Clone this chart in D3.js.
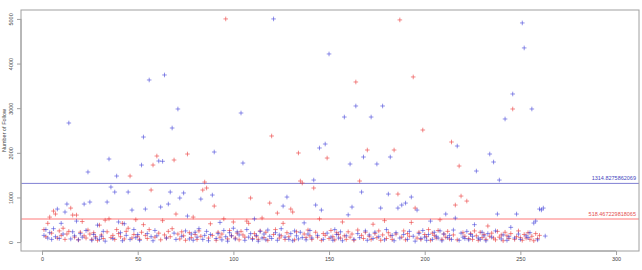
<!DOCTYPE html>
<html><head><meta charset="utf-8">
<script src="https://cdn.jsdelivr.net/npm/d3@7"></script>
<style>body{margin:0;background:#fff}svg{display:block}text{font-family:"Liberation Sans",Arial,sans-serif}</style>
</head><body><svg id="c" width="642" height="270"></svg>
<script>
const blueValues = [
150,280,90,210,60,300,120,740,80,420,
180,673,852,2668,70,230,140,470,50,190,
110,852,260,1570,897,40,170,90,380,60,
130,240,20,897,1861,1233,80,1121,1480,450,
210,30,410,150,1121,60,717,280,100,170,
40,1726,2354,740,190,3632,120,30,260,140,
1816,785,1810,3744,90,852,1121,2556,200,60,
2982,987,130,1100,250,583,70,180,40,220,
110,300,964,60,150,240,30,170,1054,2018,
80,190,440,50,260,120,20,210,140,310,
70,230,160,2892,1771,40,280,110,190,60,
520,150,20,240,90,180,50,270,130,80,
5000,210,40,160,300,807,110,1009,60,190,
30,250,140,70,220,100,430,50,180,260,
90,1390,830,150,2108,717,60,2197,200,4215,
110,40,280,170,90,230,30,2802,140,610,
1749,785,60,3049,190,100,1121,1906,250,40,
160,2802,80,220,1749,120,762,3049,50,280,
1076,1906,150,30,210,762,90,830,170,874,
60,240,1009,130,20,717,190,80,260,110,
40,170,470,60,220,130,90,250,30,180,
628,100,150,60,270,538,2152,40,200,110,
80,240,50,170,130,390,1592,90,60,220,
140,30,190,1973,110,1794,250,628,1390,70,
160,2758,40,120,330,3318,90,628,180,60,
4910,4350,140,100,210,2982,426,471,50,740,
720,762,135];
const redValues = [
280,120,420,560,200,695,628,90,250,150,
310,60,180,240,762,605,110,605,50,220,
460,140,90,270,180,60,210,120,40,380,
160,80,490,230,520,100,150,60,280,190,
120,420,70,240,310,1480,90,170,500,130,
60,220,390,150,80,280,1166,1726,110,1928,
200,50,480,160,90,240,120,300,1839,628,
180,70,230,140,40,1973,210,100,560,170,
60,250,130,1166,1345,1211,90,410,150,807,
40,220,110,180,520,5000,70,260,140,450,
90,200,50,240,160,110,470,420,987,80,
190,130,60,250,540,100,220,40,874,2377,
170,280,650,90,140,420,60,210,120,740,
673,50,230,1996,1368,1323,180,100,270,140,
60,1211,220,110,520,40,190,150,1883,80,
260,120,50,210,170,90,450,140,60,230,
110,180,40,3587,270,1368,150,80,220,2063,
130,60,400,190,100,250,40,160,480,80,
210,140,60,2063,180,1076,4978,110,250,50,
190,130,440,3700,762,90,220,60,2511,170,
120,280,40,200,150,90,260,500,60,180,
110,240,70,2242,160,830,50,1704,1031,210,
130,919,80,190,60,250,140,40,220,100,
170,60,360,130,200,90,50,240,110,160,
30,220,140,80,190,2982,60,120,250,100,
40,170,90,210,60,130,30,190,80,150];
const refLines = [
  {value: 1314.8275862069, label: "1314.8275862069", color: "#8080d4", text: "#4646c0", width: 1},
  {value: 518.467229818065, label: "518.467229818065", color: "#ffa6a6", text: "#e45050", width: 1.4}
];
const xTicks = [0, 50, 100, 150, 200, 250, 300];
const yTicks = [0, 1000, 2000, 3000, 4000, 5000];
const yTitle = "Number of Follow";

const svg = d3.select("#c");
const L = 21, R = 639, T = 10, B = 251;
const x = d3.scaleLinear().domain([-11, 312]).range([L, R]);
const y = d3.scaleLinear().domain([-200, 5200]).range([B, T]);

refLines.forEach(r => {
  svg.append("line").attr("x1", L).attr("x2", R).attr("y1", y(r.value)).attr("y2", y(r.value))
    .attr("stroke", r.color).attr("stroke-width", r.width);
  svg.append("text").attr("x", R - 3).attr("y", y(r.value) - 3).attr("text-anchor", "end")
    .attr("font-size", 5.5).attr("fill", r.text).text(r.label);
});

function plus(sel, data, color) {
  const g = sel.append("g").attr("stroke", color).attr("stroke-width", 0.8);
  data.forEach((v, i) => {
    const cx = x(i + 1), cy = y(v), s = 2.3;
    g.append("line").attr("x1", cx - s).attr("x2", cx + s).attr("y1", cy).attr("y2", cy);
    g.append("line").attr("x1", cx).attr("x2", cx).attr("y1", cy - s).attr("y2", cy + s);
  });
}
plus(svg, redValues, "rgba(235,60,60,0.75)");
plus(svg, blueValues, "rgba(60,60,215,0.7)");

svg.append("rect").attr("x", L).attr("y", T).attr("width", R - L).attr("height", B - T)
  .attr("fill", "none").attr("stroke", "#a0a0a0").attr("stroke-width", 1);

const xa = svg.append("g").attr("transform", `translate(0,${B})`)
  .call(d3.axisBottom(x).tickValues(xTicks).tickSize(4).tickPadding(2).tickFormat(d3.format("d")));
xa.select(".domain").attr("d", `M${x(0)},0H${x(300)}`).attr("stroke", "#a0a0a0");
xa.selectAll(".tick line").attr("stroke", "#a0a0a0");
xa.selectAll("text").attr("font-size", 5.5).attr("fill", "#444").attr("font-family", "Liberation Sans, Arial, sans-serif");

const ya = svg.append("g").attr("transform", `translate(${L},0)`)
  .call(d3.axisLeft(y).tickValues(yTicks).tickSize(4).tickFormat(d3.format("d")));
ya.select(".domain").attr("d", `M0,${y(0)}V${y(5000)}`).attr("stroke", "#a0a0a0");
ya.selectAll(".tick line").attr("stroke", "#a0a0a0");
ya.selectAll("text").remove();
ya.selectAll(".tick").append("text")
  .attr("transform", "translate(-8,0) rotate(-90)").attr("text-anchor", "middle")
  .attr("font-size", 5.5).attr("fill", "#444")
  .attr("font-family", "Liberation Sans, Arial, sans-serif")
  .text(d => d);

svg.append("text").attr("transform", `translate(6,${(T + B) / 2}) rotate(-90)`)
  .attr("text-anchor", "middle").attr("font-size", 5.5).attr("fill", "#444").text(yTitle);
</script></body></html>
